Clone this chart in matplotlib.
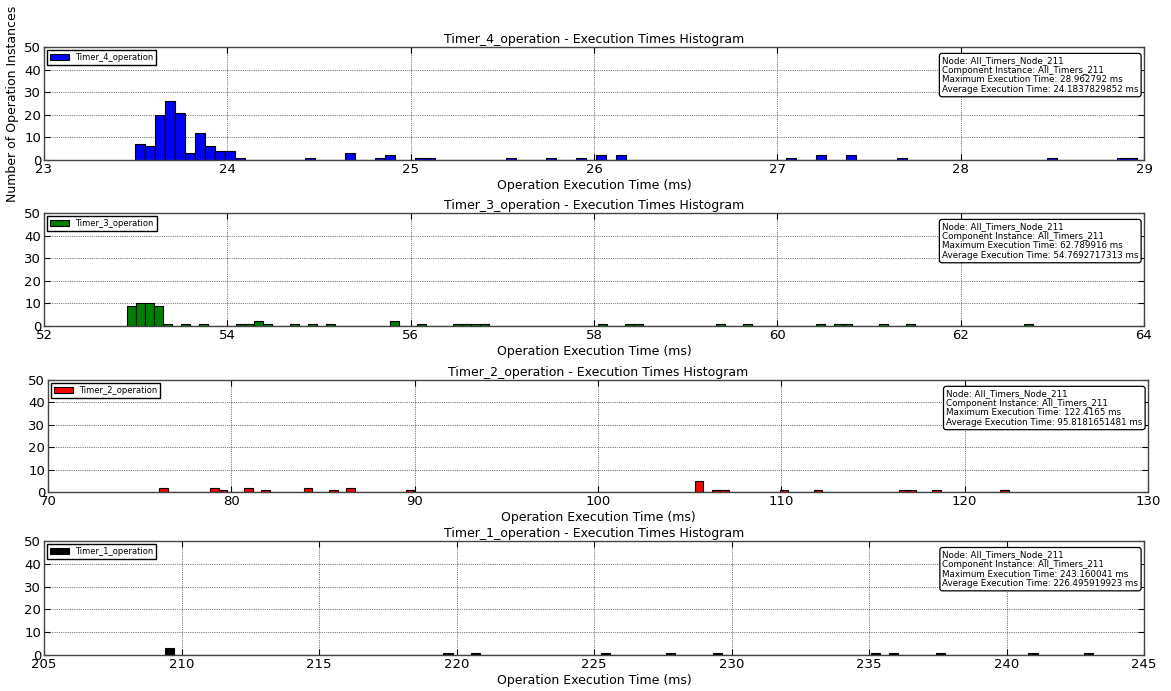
import matplotlib
matplotlib.use('Agg')
import numpy as np
import matplotlib.pyplot as plt

# Histogram data: 100 bins between min and max execution time,
# only the non-empty bins are listed (bin index, count)
t4_range = (23.494, 28.962792)
t4_bins = [0, 1, 2, 3, 4, 5, 6, 7, 8, 9, 10, 17, 21, 24, 25, 28, 29, 37, 41, 44,
           46, 48, 65, 68, 71, 76, 91, 98, 99]
t4_counts = [7, 6, 20, 26, 21, 3, 12, 6, 4, 4, 1, 1, 3, 1, 2, 1, 1, 1, 1, 1,
             2, 2, 1, 2, 2, 1, 1, 1, 1]

t3_range = (52.904, 62.789916)
t3_bins = [0, 1, 2, 3, 4, 6, 8, 12, 13, 14, 15, 18, 20, 22, 29, 32, 36, 37, 38, 39,
           52, 55, 56, 65, 68, 76, 78, 79, 83, 86, 99]
t3_counts = [9, 10, 10, 9, 1, 1, 1, 1, 1, 2, 1, 1, 1, 1, 2, 1, 1, 1, 1, 1,
             1, 1, 1, 1, 1, 1, 1, 1, 1, 1, 1]

t2_range = (76.07, 122.4165)
t2_bins = [0, 6, 7, 10, 12, 17, 20, 22, 29, 63, 65, 66, 73, 77, 87, 88, 91, 99]
t2_counts = [2, 2, 1, 2, 1, 2, 1, 2, 1, 5, 1, 1, 1, 1, 1, 1, 1, 1]

t1_range = (209.39, 243.160041)
t1_bins = [0, 30, 33, 47, 54, 59, 76, 78, 83, 93, 99]
t1_counts = [3, 1, 1, 1, 1, 1, 1, 1, 1, 1, 1]

names = ['Timer_4_operation', 'Timer_3_operation', 'Timer_2_operation', 'Timer_1_operation']
colors = ['blue', 'green', 'red', 'black']
xlims = [(23, 29), (52, 64), (70, 130), (205, 245)]
max_times = ['28.962792', '62.789916', '122.4165', '243.160041']
avg_times = ['24.1837829852', '54.7692717313', '95.8181651481', '226.495919923']
node = 'All_Timers_Node_211'
component = 'All_Timers_211'

ranges = [t4_range, t3_range, t2_range, t1_range]
bins_list = [t4_bins, t3_bins, t2_bins, t1_bins]
counts_list = [t4_counts, t3_counts, t2_counts, t1_counts]

W, H = 1171, 691
fig = plt.figure(figsize=(W / 100, H / 100), dpi=100)

# axes boxes in pixels: left, right, top, bottom
boxes = [(44, 1144, 47, 160), (44, 1144, 213, 326), (48, 1148, 380, 492), (44, 1144, 541, 655)]

for i in range(4):
    l, r, t, b = boxes[i]
    ax = fig.add_axes([l / W, 1 - b / H, (r - l) / W, (b - t) / H])
    lo, hi = ranges[i]
    edges = np.linspace(lo, hi, 101)
    centers = (edges[:-1] + edges[1:]) / 2
    ax.hist(centers[bins_list[i]], bins=edges, weights=counts_list[i],
            color=colors[i], edgecolor='black', linewidth=0.8, label=names[i])
    ax.set_xlim(*xlims[i])
    ax.set_ylim(0, 50)
    ax.set_yticks([0, 10, 20, 30, 40, 50])
    ax.grid(True, color='black', linestyle=':', linewidth=0.5)
    ax.set_axisbelow(True)
    ax.tick_params(direction='in', top=True, right=True, labelsize=9.5, length=4, pad=2)
    for s in ax.spines.values():
        s.set_color('#444444')
        s.set_linewidth(1.0)
    ax.set_title(names[i] + ' - Execution Times Histogram', fontsize=9.0, pad=3)
    ax.set_xlabel('Operation Execution Time (ms)', fontsize=9.0, labelpad=2)
    leg = ax.legend(loc='upper left', fontsize=6, fancybox=False, framealpha=1,
                    edgecolor='black', borderaxespad=0.4, handlelength=2.2,
                    borderpad=0.35)
    leg.get_frame().set_linewidth(1.0)
    info = ('Node: ' + node + '\nComponent Instance: ' + component +
            '\nMaximum Execution Time: ' + max_times[i] + ' ms' +
            '\nAverage Execution Time: ' + avg_times[i] + ' ms')
    ax.text(0.995, 0.92, info, transform=ax.transAxes, ha='right', va='top',
            multialignment='left', fontsize=6.3, linespacing=1.1,
            bbox=dict(boxstyle='round,pad=0.3', fc='white', ec='black', lw=0.9))
    if i == 0:
        ax.set_ylabel('Number of Operation Instances', fontsize=9.0, labelpad=4)

fig.savefig('out.png', dpi=100)
